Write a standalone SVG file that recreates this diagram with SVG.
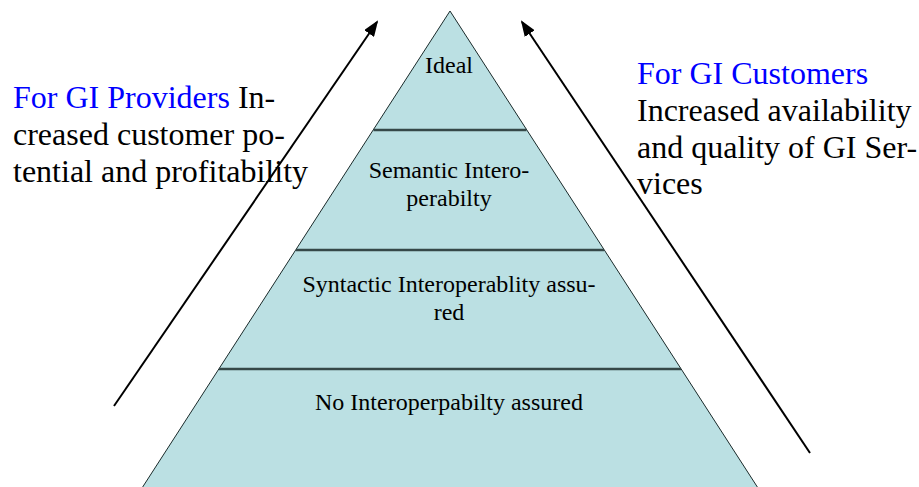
<svg xmlns="http://www.w3.org/2000/svg" width="919" height="487" viewBox="0 0 919 487">
<style>
  .t { font-family: "Liberation Serif", "Times New Roman", serif; fill: #000; }
  .s { font-size: 18px; text-anchor: middle; }
  .b { font-size: 32px; }
  .blue { fill: #0000ff; }
  .div { stroke: #354848; stroke-width: 2.5; }
  .arr { stroke: #000; stroke-width: 2; fill: none; marker-end: url(#ah); }
</style>
<defs>
  <marker id="ah" markerWidth="16" markerHeight="12" refX="14" refY="6" orient="auto" markerUnits="userSpaceOnUse">
    <path d="M0,0 L16,6 L0,12 Z" fill="#000"/>
  </marker>
</defs>
<rect width="919" height="487" fill="#fff"/>
<g id="pyramid">
  <polygon points="450,11 758,488 142,488" fill="#bbe0e3" stroke="#1a2a2a" stroke-width="1"/>
  <line class="div" x1="373.5" y1="130" x2="526.5" y2="130"/>
  <line class="div" x1="296" y1="250" x2="604" y2="250" stroke="#111"/>
  <line class="div" x1="219" y1="369" x2="681" y2="369"/>
</g>
<g id="ideal">
  <text class="t s" x="449" y="73" style="font-size:24px">Ideal</text>
</g>
<g id="semantic">
  <text class="t s" x="449" y="178" style="font-size:24px">Semantic Intero-</text>
  <text class="t s" x="449" y="206" style="font-size:24px">perabilty</text>
</g>
<g id="syntactic">
  <text class="t s" x="449" y="292" style="font-size:24px">Syntactic Interoperablity assu-</text>
  <text class="t s" x="449" y="320" style="font-size:24px">red</text>
</g>
<g id="nointerop">
  <text class="t s" x="449" y="410" style="font-size:24px">No Interoperpabilty assured</text>
</g>
<g id="connectors">
  <line class="arr" x1="114" y1="406" x2="377" y2="22"/>
  <line class="arr" x1="810" y1="453" x2="522" y2="22"/>
</g>
<g id="providers">
  <text class="t b" x="13" y="108"><tspan class="blue">For GI Providers</tspan> In-</text>
  <text class="t b" x="13" y="145">creased customer po-</text>
  <text class="t b" x="13" y="182">tential and profitability</text>
</g>
<g id="customers">
  <text class="t b blue" x="637" y="84">For GI Customers</text>
  <text class="t b" x="637" y="121">Increased availability</text>
  <text class="t b" x="637" y="158">and quality of GI Ser-</text>
  <text class="t b" x="637" y="194">vices</text>
</g>
</svg>
